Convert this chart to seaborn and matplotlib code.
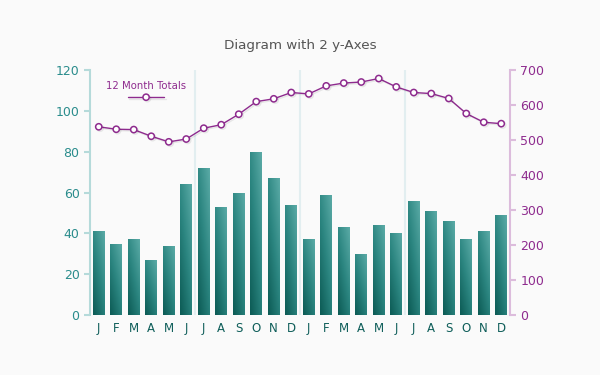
import numpy as np
import pandas as pd
import matplotlib
matplotlib.use("Agg")
import matplotlib.pyplot as plt
import matplotlib.patheffects as pe
from matplotlib.colors import LinearSegmentedColormap
import seaborn as sns

# values
months = ["J", "F", "M", "A", "M", "J", "J", "A", "S", "O", "N", "D",
          "J", "F", "M", "A", "M", "J", "J", "A", "S", "O", "N", "D"]
monthly = [41, 35, 37, 27, 34, 64, 72, 53, 60, 80, 67, 54,
           37, 59, 43, 30, 44, 40, 56, 51, 46, 37, 41, 49]
totals = [538, 531, 530, 511, 495, 503, 534, 544, 574, 610, 618, 636,
          632, 655, 663, 666, 676, 652, 636, 633, 619, 576, 551, 547]

BG = "#fafafa"
TEAL_AX = "#b5dada"
TEAL_TXT = "#2a8c8c"
TEAL_DARK = "#0f5e5a"
PURPLE = "#8e2b8e"
PURPLE_AX = "#dcbcdc"

sns.set_style("white")
plt.rcParams["font.family"] = ["DejaVu Sans"]

df = pd.DataFrame({"idx": np.arange(len(months)), "monthly": monthly,
                   "total": totals})

fig = plt.figure(figsize=(6, 3.75), dpi=100, facecolor=BG)
ax = fig.add_axes([0.15, 0.16, 0.70, 0.653])
ax.set_facecolor(BG)

sns.barplot(data=df, x="idx", y="monthly", color=TEAL_DARK, width=0.66,
            saturation=1, linewidth=0, ax=ax, zorder=2)

# diagonal gradient fill on every bar
grad_cmap = LinearSegmentedColormap.from_list("tg", ["#0c5b55", "#2b8580", "#5aaaa6"])
gx, gy = np.meshgrid(np.linspace(0, 1, 20), np.linspace(0, 1, 60))
grad = 0.5 * gx + 0.7 * gy
for bar in ax.patches:
    x0, y0 = bar.get_x(), bar.get_y()
    w, h = bar.get_width(), bar.get_height()
    im = ax.imshow(grad, cmap=grad_cmap, extent=(x0, x0 + w, y0, y0 + h),
                   origin="lower", aspect="auto", zorder=3, vmin=0, vmax=1.2)
    im.set_clip_path(bar)

ax.set_xlim(-0.5, len(months) - 0.5)
ax.set_ylim(0, 120)
ax.set_yticks(range(0, 121, 20))
ax.set_xticks(range(len(months)))
ax.set_xticklabels(months)
ax.set_xticks([5.5, 11.5, 17.5], minor=True)
ax.grid(which="minor", axis="x", color="#e2eef0", lw=1.5, zorder=0)
ax.grid(which="major", visible=False)
ax.set_xlabel("")
ax.set_ylabel("")
for s in ["top", "bottom", "right"]:
    ax.spines[s].set_visible(False)
ax.spines["left"].set_color(TEAL_AX)
ax.spines["left"].set_linewidth(1.5)
ax.tick_params(axis="y", colors=TEAL_AX, labelcolor=TEAL_TXT, labelsize=9,
               length=4, width=1.5, direction="out", left=True)
ax.tick_params(axis="x", labelcolor=TEAL_DARK, labelsize=8.5, length=0, pad=5)
ax.tick_params(axis="x", which="minor", length=0)

ax2 = ax.twinx()
sns.lineplot(data=df, x="idx", y="total", ax=ax2, color=PURPLE, lw=1.0,
             marker="o", markersize=4.5, markerfacecolor="white",
             markeredgecolor=PURPLE, markeredgewidth=1.1,
             label="12 Month Totals", zorder=5,
             path_effects=[pe.SimpleLineShadow(offset=(1, -1), alpha=0.08),
                           pe.Normal()])
ax2.set_ylim(0, 700)
ax2.set_yticks(range(0, 701, 100))
ax2.set_ylabel("")
ax2.set_xlabel("")
for s in ["top", "bottom", "left"]:
    ax2.spines[s].set_visible(False)
ax2.spines["right"].set_color(PURPLE_AX)
ax2.spines["right"].set_linewidth(1.5)
ax2.tick_params(axis="y", colors=PURPLE_AX, labelcolor=PURPLE, labelsize=9,
                length=4, width=1.5, direction="out", right=True)

leg = ax2.legend(handles=ax2.lines[:1], labels=[""], title="12 Month Totals",
                 frameon=False, loc="upper left", bbox_to_anchor=(0.015, 0.995),
                 handlelength=2.6, handletextpad=0, borderpad=0.2,
                 labelspacing=0, title_fontsize=7.3)
leg.get_title().set_color(PURPLE)

fig.suptitle("Diagram with 2 y-Axes", y=0.895, color="#555555", fontsize=9.7)

fig.savefig("out.png", dpi=100, facecolor=BG)
